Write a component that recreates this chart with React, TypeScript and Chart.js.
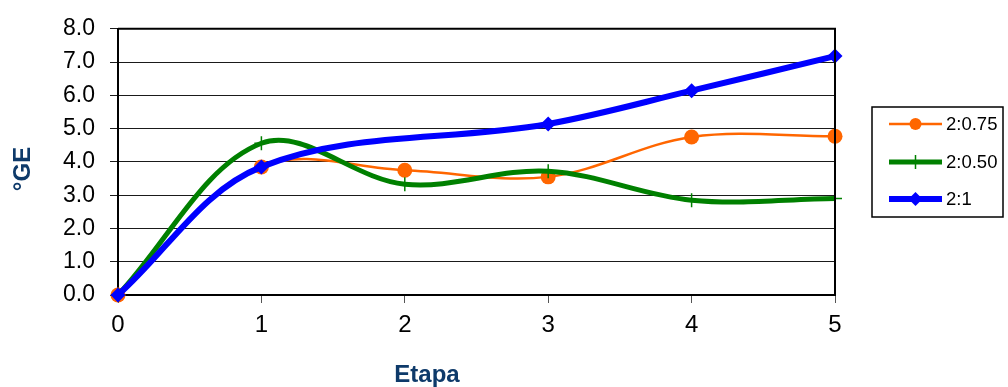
import React, { useEffect, useRef } from "react";
import { Chart, registerables } from "chart.js";

Chart.register(...registerables);

const stages = [0, 1, 2, 3, 4, 5];
const seriesLabels = ["2:0.75", "2:0.50", "2:1"];
const values075 = [0, 3.85, 3.75, 3.55, 4.75, 4.77];
const values050 = [0, 4.56, 3.33, 3.72, 2.85, 2.9];
const values1 = [0, 3.85, null, 5.14, 6.14, 7.18];
const yTicks = [0, 1, 2, 3, 4, 5, 6, 7, 8];

const FONT = "'Liberation Sans', Arial, sans-serif";
const TITLE_COLOR = "#0e3a6a";

const toPoints = (vals: (number | null)[]) =>
  stages.map((s, i) => ({ x: s, y: vals[i] }));

const framePlugin = {
  id: "frame",
  afterDatasetsDraw(chart: any) {
    const { ctx, chartArea } = chart;
    ctx.save();
    ctx.strokeStyle = "#000";
    ctx.lineWidth = 2;
    ctx.beginPath();
    ctx.moveTo(chartArea.left, chartArea.top);
    ctx.lineTo(chartArea.right, chartArea.top);
    ctx.lineTo(chartArea.right, chartArea.bottom);
    ctx.stroke();
    ctx.restore();
  },
  afterDraw(chart: any) {
    const { ctx } = chart;
    ctx.save();
    ctx.fillStyle = TITLE_COLOR;
    ctx.font = `bold 24px ${FONT}`;
    ctx.textAlign = "center";
    ctx.textBaseline = "middle";
    ctx.fillText("Etapa", 427, 375);
    ctx.translate(23, 169);
    ctx.rotate(-Math.PI / 2);
    ctx.fillText("°GE", 0, 0);
    ctx.restore();

    ctx.save();
    const boxL = 872, boxT = 107, boxR = 1003, boxB = 217;
    ctx.strokeStyle = "#000";
    ctx.lineWidth = 1.5;
    ctx.strokeRect(boxL, boxT, boxR - boxL, boxB - boxT);
    const rows = [124, 162, 199];
    chart.data.datasets.forEach((ds: any, i: number) => {
      const y = rows[i];
      ctx.strokeStyle = ds.borderColor;
      ctx.lineWidth = ds.borderWidth;
      ctx.beginPath();
      ctx.moveTo(889, y);
      ctx.lineTo(942, y);
      ctx.stroke();
      const cx = 915.5;
      ctx.fillStyle = ds.pointBackgroundColor;
      ctx.strokeStyle = ds.pointBorderColor;
      ctx.lineWidth = ds.pointBorderWidth;
      if (ds.pointStyle === "circle") {
        ctx.beginPath();
        ctx.arc(cx, y, 6, 0, Math.PI * 2);
        ctx.fill();
      } else if (ds.pointStyle === "cross") {
        ctx.beginPath();
        ctx.moveTo(cx, y - 7);
        ctx.lineTo(cx, y + 7);
        ctx.stroke();
      } else {
        ctx.beginPath();
        ctx.moveTo(cx - 7, y);
        ctx.lineTo(cx, y - 7);
        ctx.lineTo(cx + 7, y);
        ctx.lineTo(cx, y + 7);
        ctx.closePath();
        ctx.fill();
      }
      ctx.fillStyle = "#000";
      ctx.font = `18.5px ${FONT}`;
      ctx.textAlign = "left";
      ctx.textBaseline = "middle";
      ctx.fillText(ds.label, 946, y + 1);
    });
    ctx.restore();
  },
};

export default function App() {
  const ref = useRef<HTMLCanvasElement | null>(null);
  useEffect(() => {
    if (!ref.current) return;
    const chart = new Chart(ref.current, {
      type: "line",
      data: {
        datasets: [
          {
            label: seriesLabels[0],
            data: toPoints(values075),
            order: 3,
            borderColor: "#ff6600",
            backgroundColor: "#ff6600",
            borderWidth: 2.5,
            pointStyle: "circle",
            pointRadius: 7.5,
            pointBackgroundColor: "#ff6600",
            pointBorderColor: "#ff6600",
            pointBorderWidth: 0,
            tension: 0.35,
            clip: false,
          },
          {
            label: seriesLabels[1],
            data: toPoints(values050),
            order: 2,
            borderColor: "#008000",
            backgroundColor: "#008000",
            borderWidth: 5,
            pointStyle: "cross",
            pointRadius: 7,
            pointBackgroundColor: "#008000",
            pointBorderColor: "#008000",
            pointBorderWidth: 1.5,
            tension: 0.35,
            clip: false,
          },
          {
            label: seriesLabels[2],
            data: toPoints(values1),
            order: 1,
            borderColor: "#0000ff",
            backgroundColor: "#0000ff",
            borderWidth: 6,
            pointStyle: "rectRot",
            pointRadius: 7.5,
            pointBackgroundColor: "#0000ff",
            pointBorderColor: "#0000ff",
            pointBorderWidth: 0,
            tension: 0.35,
            spanGaps: true,
            clip: false,
          },
        ],
      },
      options: {
        animation: false,
        responsive: true,
        maintainAspectRatio: false,
        layout: { padding: { left: 0, top: 28, right: 173, bottom: 0 } },
        plugins: { legend: { display: false }, tooltip: { enabled: false } },
        scales: {
          x: {
            type: "linear",
            min: 0,
            max: 5,
            afterFit: (s: any) => {
              s.height = 92;
            },
            afterBuildTicks: (s: any) => {
              s.ticks = stages.map((v) => ({ value: v }));
            },
            ticks: {
              color: "#000",
              font: { family: FONT, size: 24 },
              padding: 8,
              callback: (v: any) => String(v),
            },
            grid: {
              drawOnChartArea: false,
              drawTicks: true,
              tickLength: 8,
              color: "#555",
              lineWidth: 1,
            },
            border: { color: "#000", width: 2 },
          },
          y: {
            min: 0,
            max: 8,
            afterFit: (s: any) => {
              s.width = 118;
            },
            afterBuildTicks: (s: any) => {
              s.ticks = yTicks.map((v) => ({ value: v }));
            },
            ticks: {
              color: "#000",
              font: { family: FONT, size: 23 },
              padding: 15,
              callback: (v: any) => Number(v).toFixed(1),
            },
            grid: {
              color: "#1a1a1a",
              lineWidth: 1,
              tickLength: 8,
              drawTicks: true,
            },
            border: { color: "#000", width: 2 },
          },
        },
      },
      plugins: [framePlugin],
    });
    return () => chart.destroy();
  }, []);
  return (
    <div style={{ position: "absolute", left: 0, top: 0, width: 1008, height: 387, background: "#fff" }}>
      <canvas ref={ref} />
    </div>
  );
}
